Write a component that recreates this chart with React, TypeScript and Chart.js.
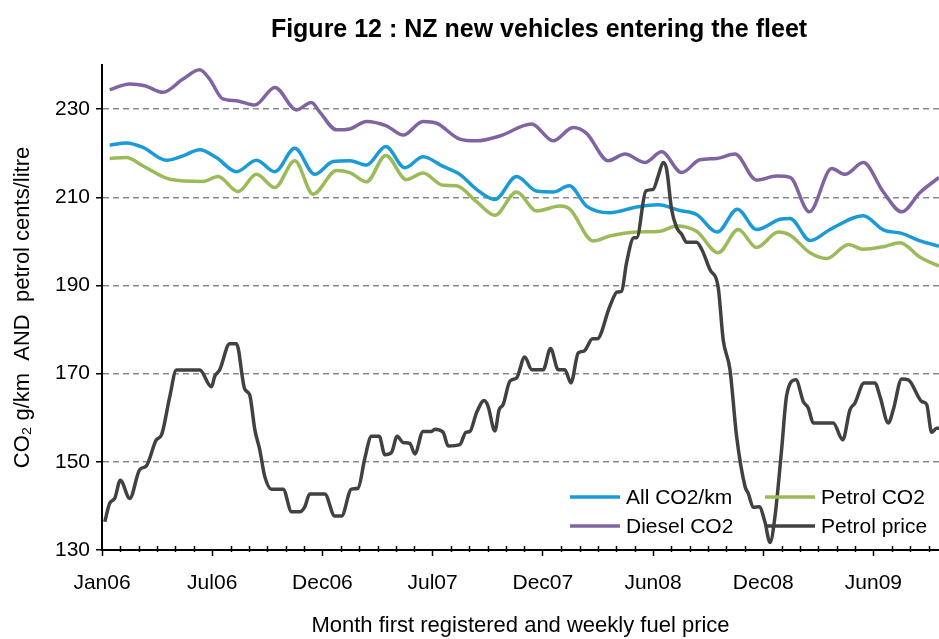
import React, { useEffect, useRef } from 'react';
import { Chart, registerables } from 'chart.js';

Chart.register(...registerables);

const FONT = "'Liberation Sans', Arial, sans-serif";

const chartTitle = 'Figure 12 : NZ new vehicles entering the fleet';
const xAxisTitle = 'Month first registered and weekly fuel price';
const yAxisTitle = 'CO\u2082 g/km  AND  petrol cents/litre';

// x axis: months since Jan 2006; major labels every 6 months
const xTickLabels = ['Jan06', 'Jul06', 'Dec06', 'Jul07', 'Dec07', 'Jun08', 'Dec08', 'Jun09'];
const xTickMonths = [0, 6, 12, 18, 24, 30, 36, 42];
const xMin = 0;
const xMax = 45.57;
const yTickValues = [130, 150, 170, 190, 210, 230];
const yMin = 130;
const yMax = 240;

const seriesNames = ['All CO2/km', 'Petrol CO2', 'Diesel CO2', 'Petrol price'];
const seriesColors = ['#1a9ad6', '#9bbb59', '#8064a2', '#404242'];

const allMonths = [0.42, 1.33, 2.23, 3.51, 4.41, 5.32, 6.23, 7.32, 8.41, 9.41, 10.5, 11.58, 12.58, 13.49, 14.4, 15.45, 16.49, 17.48, 18.57, 19.48, 20.39, 21.39, 22.57, 23.66, 24.56, 25.44, 26.38, 27.65, 29.11, 30.28, 31.46, 32.37, 33.5, 34.59, 35.64, 36.91, 37.46, 38.55, 39.64, 41.45, 42.54, 43.54, 44.54, 45.57];
const allCO2 = [221.8, 222.3, 221.3, 218.4, 219.4, 220.8, 219.0, 215.8, 218.4, 215.8, 221.1, 215.2, 218.1, 218.3, 217.3, 221.5, 216.7, 219.2, 217.0, 215.2, 211.8, 209.5, 214.7, 211.4, 211.2, 212.6, 208.0, 206.5, 207.8, 208.3, 207.0, 206.1, 202.1, 207.3, 202.7, 205.0, 205.2, 200.2, 202.7, 205.8, 202.6, 201.8, 200.1, 198.9];

const petrolMonths = [0.42, 1.33, 2.23, 3.69, 5.5, 6.32, 7.41, 8.41, 9.41, 10.5, 11.49, 12.77, 13.49, 14.4, 15.45, 16.58, 17.48, 18.57, 19.3, 20.39, 21.39, 22.57, 23.66, 24.93, 25.47, 26.74, 27.65, 29.11, 30.38, 31.28, 32.37, 33.55, 34.64, 35.64, 36.82, 37.46, 38.55, 39.46, 40.64, 41.45, 42.54, 43.45, 44.54, 45.57];
const petrolCO2 = [218.8, 219.0, 217.1, 214.1, 213.6, 214.7, 211.3, 215.2, 212.2, 218.3, 210.7, 216.1, 215.6, 213.5, 219.5, 214.0, 215.5, 212.7, 212.6, 209.0, 205.9, 211.2, 206.9, 208.0, 207.3, 200.1, 201.2, 202.1, 202.3, 203.5, 202.3, 197.4, 202.7, 198.6, 202.1, 201.4, 197.4, 196.1, 199.3, 198.2, 198.8, 199.7, 196.4, 194.4];

const dieselMonths = [0.42, 1.51, 2.33, 3.32, 4.41, 5.32, 5.86, 6.58, 7.32, 8.32, 9.41, 10.59, 11.4, 11.86, 12.77, 13.49, 14.4, 15.49, 16.4, 17.48, 18.21, 19.48, 20.39, 21.66, 23.39, 24.56, 25.65, 26.38, 27.56, 28.47, 29.56, 30.47, 31.56, 32.55, 33.46, 34.46, 35.64, 36.73, 37.46, 38.51, 39.73, 40.45, 41.45, 42.54, 43.54, 44.54, 45.57];
const dieselCO2 = [234.4, 235.7, 235.3, 233.8, 236.8, 238.9, 236.8, 232.3, 231.9, 230.9, 234.9, 229.8, 231.5, 229.3, 225.3, 225.5, 227.2, 226.2, 224.1, 227.2, 226.8, 223.2, 222.8, 223.9, 226.6, 222.8, 225.8, 224.5, 218.3, 219.8, 217.9, 220.3, 215.6, 218.5, 218.8, 219.8, 213.9, 214.8, 214.5, 206.7, 216.5, 215.2, 217.9, 211.2, 206.7, 211.1, 214.5];

const priceMonths = [0.15, 0.42, 0.69, 1.0, 1.51, 2.05, 2.42, 2.96, 3.24, 3.69, 4.05, 5.32, 5.96, 6.14, 6.41, 6.95, 7.32, 7.77, 8.04, 8.32, 8.59, 8.86, 9.23, 9.86, 10.32, 10.77, 11.04, 11.31, 12.13, 12.67, 13.04, 13.58, 13.94, 14.31, 14.67, 15.09, 15.4, 15.76, 16.07, 16.39, 16.76, 17.03, 17.48, 17.94, 18.12, 18.57, 18.85, 19.48, 19.81, 20.03, 20.39, 20.81, 21.02, 21.39, 21.62, 21.84, 22.21, 22.57, 23.02, 23.39, 24.02, 24.42, 24.84, 25.2, 25.53, 25.93, 26.24, 26.71, 26.96, 27.65, 28.05, 28.29, 28.56, 28.96, 29.11, 29.61, 30.01, 30.28, 30.56, 30.74, 31.01, 31.29, 31.56, 31.83, 32.37, 32.65, 33.1, 33.55, 33.82, 34.19, 34.55, 35.01, 35.18, 35.46, 35.78, 36.09, 36.37, 36.64, 37.0, 37.28, 37.78, 38.18, 38.45, 38.73, 39.81, 40.33, 40.72, 40.99, 41.49, 42.08, 42.36, 42.81, 43.08, 43.54, 43.9, 44.63, 44.9, 45.17, 45.44, 45.57];
const petrolPrice = [136.4, 140.6, 141.7, 145.8, 141.7, 148.2, 149.1, 155.0, 156.1, 164.8, 170.8, 170.8, 167.0, 169.4, 170.9, 176.8, 176.8, 166.5, 165.2, 157.3, 152.7, 146.7, 143.8, 143.8, 138.7, 138.7, 139.8, 142.7, 142.7, 137.7, 137.7, 143.8, 144.0, 150.8, 155.8, 155.8, 151.6, 152.1, 155.8, 154.4, 154.2, 151.8, 156.9, 156.9, 157.4, 156.7, 153.6, 153.9, 156.7, 156.9, 161.1, 163.9, 162.6, 157.0, 161.8, 163.0, 168.3, 169.0, 173.8, 170.9, 170.9, 175.7, 170.9, 170.9, 167.9, 174.7, 175.1, 177.9, 177.9, 185.3, 188.5, 188.7, 195.2, 200.8, 200.8, 211.4, 211.8, 214.8, 217.9, 216.4, 207.3, 203.1, 201.6, 199.8, 199.8, 198.2, 193.6, 189.5, 177.7, 170.9, 155.8, 144.4, 142.9, 139.7, 139.8, 136.4, 131.7, 137.6, 152.7, 165.2, 168.6, 163.7, 162.2, 158.8, 158.8, 155.0, 161.8, 163.3, 167.9, 167.9, 164.8, 158.8, 161.8, 168.8, 168.6, 163.7, 163.0, 156.7, 157.6, 157.6];

const pairs = (xs: number[], ys: number[]) => xs.map((x, i) => ({ x, y: ys[i] }));

const decorPlugin = {
  id: 'decor',
  afterDraw(chart: any) {
    const { ctx, chartArea, scales } = chart;
    ctx.save();
    // minor month ticks on x axis
    ctx.strokeStyle = '#000';
    ctx.lineWidth = 1.5;
    for (let m = 1; m <= Math.floor(xMax); m++) {
      if (xTickMonths.includes(m)) continue;
      const px = Math.round(scales.x.getPixelForValue(m)) + 0.5;
      ctx.beginPath();
      ctx.moveTo(px, chartArea.bottom - 4);
      ctx.lineTo(px, chartArea.bottom + 2);
      ctx.stroke();
    }
    // title
    ctx.fillStyle = '#000';
    ctx.font = `bold 25px ${FONT}`;
    ctx.textAlign = 'center';
    ctx.textBaseline = 'middle';
    ctx.fillText(chartTitle, 539, 30);
    // legend (2 x 2)
    const colX = [570, 765];
    const rowY = [497, 526];
    ctx.font = `21px ${FONT}`;
    ctx.textAlign = 'left';
    chart.data.datasets.forEach((ds: any, i: number) => {
      const x = colX[i % 2];
      const y = rowY[Math.floor(i / 2)];
      ctx.strokeStyle = ds.borderColor;
      ctx.lineWidth = 3.5;
      ctx.beginPath();
      ctx.moveTo(x, y);
      ctx.lineTo(x + 50, y);
      ctx.stroke();
      ctx.fillStyle = '#000';
      ctx.fillText(ds.label, x + 56, y + 1);
    });
    ctx.restore();
  },
};

export default function App() {
  const ref = useRef<HTMLCanvasElement | null>(null);

  useEffect(() => {
    if (!ref.current) return;
    const mk = (i: number, data: any[], order: number) => ({
      label: seriesNames[i],
      data,
      borderColor: seriesColors[i],
      backgroundColor: seriesColors[i],
      borderWidth: 3.5,
      pointRadius: 0,
      fill: false,
      cubicInterpolationMode: 'monotone' as const,
      order,
    });
    const chart = new Chart(ref.current, {
      type: 'line',
      data: {
        datasets: [
          mk(0, pairs(allMonths, allCO2), 2),
          mk(1, pairs(petrolMonths, petrolCO2), 3),
          mk(2, pairs(dieselMonths, dieselCO2), 1),
          mk(3, pairs(priceMonths, petrolPrice), 0),
        ],
      },
      options: {
        animation: false,
        responsive: false,
        maintainAspectRatio: false,
        layout: { padding: { top: 65, right: 0, left: 0, bottom: 0 } },
        plugins: {
          legend: { display: false },
          title: { display: false },
          tooltip: { enabled: false },
        },
        scales: {
          x: {
            type: 'linear',
            min: xMin,
            max: xMax,
            afterBuildTicks: (s: any) => {
              s.ticks = xTickMonths.map((v) => ({ value: v }));
            },
            afterFit: (s: any) => {
              s.height = 89;
              s.paddingLeft = 0;
              s.paddingRight = 0;
            },
            ticks: {
              autoSkip: false,
              maxRotation: 0,
              padding: 15,
              color: '#000',
              font: { family: FONT, size: 21 },
              callback: (v: any) => {
                const i = xTickMonths.indexOf(Number(v));
                return i >= 0 ? xTickLabels[i] : '';
              },
            },
            grid: {
              drawOnChartArea: false,
              drawTicks: true,
              tickLength: 6,
              tickColor: '#000',
              tickWidth: 1.5,
            },
            border: { display: true, color: '#000', width: 2 },
            title: {
              display: true,
              text: xAxisTitle,
              color: '#000',
              font: { family: FONT, size: 22 },
              padding: { top: 0, bottom: 0 },
            },
          },
          y: {
            type: 'linear',
            min: yMin,
            max: yMax,
            afterBuildTicks: (s: any) => {
              s.ticks = yTickValues.map((v) => ({ value: v }));
            },
            afterFit: (s: any) => {
              s.width = 102;
              s.paddingTop = 0;
              s.paddingBottom = 0;
            },
            ticks: {
              padding: 6,
              color: '#000',
              font: { family: FONT, size: 21 },
            },
            grid: {
              color: (c: any) => (c.tick && c.tick.value === yMin ? 'rgba(0,0,0,0)' : '#8a8a8a'),
              lineWidth: 1.5,
              tickColor: '#000',
              tickLength: 6,
              tickWidth: 1.5,
            },
            border: { display: true, color: '#000', width: 2, dash: [6, 4] },
            title: {
              display: true,
              text: yAxisTitle,
              color: '#000',
              font: { family: FONT, size: 22 },
              padding: { top: 10, bottom: 0 },
            },
          },
        },
      },
      plugins: [decorPlugin],
    });
    return () => chart.destroy();
  }, []);

  return (
    <div style={{ position: 'absolute', left: 0, top: 0, width: 939, height: 639, background: '#fff' }}>
      <canvas ref={ref} width={939} height={639} style={{ display: 'block' }} />
    </div>
  );
}
